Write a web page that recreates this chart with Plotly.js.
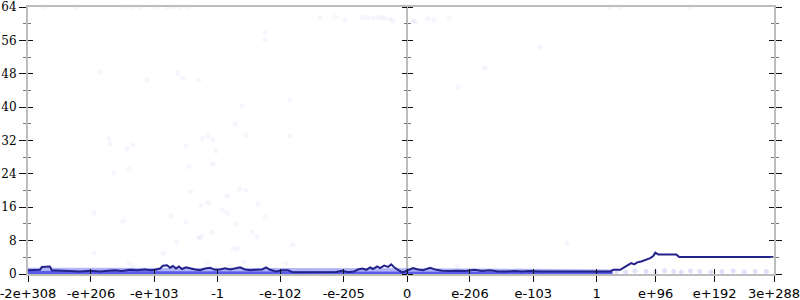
<!DOCTYPE html>
<html>
<head>
<meta charset="utf-8">
<script src="https://cdn.plot.ly/plotly-3.0.1.min.js"></script>
<style>html,body{margin:0;padding:0;background:#fff;}#chart{width:800px;height:300px;}</style>
</head>
<body>
<div id="chart"></div>
<script>
// x axis: signed binary-exponent position of the double value
const xTickVals = [-2047, -1707, -1365, -1023, -684, -342, 0, 339, 681, 1023, 1342, 1661, 1981];
const xTickText = ["-2e+308", "-e+206", "-e+103", "-1", "-e-102", "-e-205", "0", "e-206", "e-103", "1", "e+96", "e+192", "3e+288"];
const xRange = [-2047, 1981];
const yRange = [0, 64];

// summary line
const lineX = [-2047,-2009,-1982,-1972,-1929,-1918,-1875,-1820,-1766,-1712,-1658,-1615,-1577,-1540,-1496,-1458,-1415,-1388,-1361,-1334,-1318,-1296,-1280,-1264,-1248,-1232,-1215,-1194,-1172,-1145,-1118,-1091,-1064,-1037,-1010,-983,-956,-929,-902,-875,-848,-816,-783,-762,-740,-708,-675,-643,-616,-578,-524,-470,-416,-384,-351,-319,-286,-265,-243,-221,-200,-184,-162,-146,-124,-103,-86,-70,-49,-27,-11,
  11,32,59,86,124,157,189,232,276,319,362,405,448,492,535,578,621,664,718,772,826,881,935,989,1026,1097,1113,1151,1172,1194,1210,1226,1243,1264,1286,1313,1329,1340,1356,1453,1469,1977];
const lineY = [0.9,0.9,1.0,1.7,1.8,0.9,0.8,0.7,0.6,0.8,0.6,0.8,0.9,0.7,1.0,0.9,1.1,0.9,1.0,1.3,2.0,2.1,1.5,1.9,1.3,1.8,1.2,1.6,1.3,1.1,0.9,1.3,1.5,1.0,1.1,1.4,1.1,1.3,1.6,1.1,0.9,1.0,1.1,1.6,1.0,0.6,0.9,0.9,0.4,0.4,0.4,0.4,0.4,0.5,0.8,0.4,0.6,1.1,1.3,1.0,1.6,1.2,1.8,1.4,2.0,1.7,2.3,1.6,1.0,0.4,0.6,
  1.0,1.4,1.1,0.9,1.5,1.0,0.8,0.7,0.8,0.7,1.0,0.7,0.9,0.6,0.6,0.7,0.6,0.7,0.6,0.6,0.5,0.5,0.5,0.5,0.6,0.6,1.0,1.0,1.6,2.2,2.6,2.3,2.8,3.0,3.4,3.8,4.3,5.1,4.7,4.7,4.1,4.1];

// dense band of samples near zero
const bandX = [-2047, -1024, -1, 1, 600, 1110];
const bandLo = [0, 0, 0, 0, 0, 0];
const stripHi = [0.7, 0.7, 0.7, 0.6, 0.6, 0.5];
const bandHi = [1.5, 1.5, 1.5, 1.35, 1.25, 1.1];

// sparse low samples on the right
const dotsX = [1130,1180,1230,1290,1340,1390,1440,1480,1530,1580,1640,1700,1760,1820,1880,1940];
const dotsY = [0.6,0.5,0.7,0.6,0.5,0.8,0.6,0.5,0.7,0.6,0.5,0.6,0.7,0.5,0.6,0.6];

// outlier samples
const outX = [-1610,-1604,-1513,-1480,-1583,-1502,-1691,-1534,-1275,-1194,-1194,-1178,-1167,-1113,-1075,-1107,-1075,-1048,-1032,-1048,-999,-972,-972,-902,-870,-924,-805,-767,-929,-870,-891,-632,-632,
  -1956,-1788,-1523,-1480,-1442,-1361,-1296,-1269,-1226,-1188,-1658,-1405,-1237,-1124,
  -243,-216,-184,-157,-135,-119,-92,-76,32,43,113,146,227,276,
  -1691,-1502,-1480,-1318,-1243,-1124,-1113,-1053,-940,-918,-837,-810,-1080,-956,-881,-616,-654,270,864,
  -767,-767,421,718,-1210,1151,1097,1529,-470,-389,-335];
const outY = [32.4,31.2,30,31,24.2,25.2,14.6,12.7,13.9,12.5,30.7,25.7,19.7,16.5,17,32.4,33.1,32.1,29.5,26.4,15.3,14.6,18.7,20.4,20.1,12,16.8,13.7,36,33.3,40.3,41.7,33.1,
  64,64,64,64,64,64,64,64,64,64,48.4,46.5,48.2,46.5,
  61.5,61.5,61.5,61.5,61.5,61.2,61.2,60.7,60.7,60.4,61.2,61,61.5,44.8,
  5,2.6,1.9,5,7.7,8.6,8.9,10,6.2,6.2,10,8.9,2.6,1.9,2.9,7,2.6,1.9,7.4,
  57.8,56.1,49.4,54.4,47,64,64,64,61.6,61.6,60.9];

const traces = [
  {x: bandX, y: bandLo, mode: 'lines', line: {width: 0}, hoverinfo: 'skip', showlegend: false},
  {x: bandX, y: stripHi, mode: 'lines', line: {width: 0}, fill: 'tonexty', fillcolor: 'rgba(50,50,230,0.8)', hoverinfo: 'skip', showlegend: false},
  {x: bandX, y: bandHi, mode: 'lines', line: {width: 0}, fill: 'tonexty', fillcolor: 'rgba(100,105,240,0.5)', hoverinfo: 'skip', showlegend: false},
  {x: dotsX, y: dotsY, mode: 'markers', marker: {size: 5, color: 'rgba(90,90,230,0.18)'}, showlegend: false},
  {x: outX, y: outY, mode: 'markers', marker: {size: 5, color: 'rgba(110,110,235,0.07)'}, showlegend: false},
  {x: lineX, y: lineY, mode: 'lines', line: {color: 'rgb(35,35,140)', width: 2}, showlegend: false}
];
// empty traces so every tick-only overlay axis gets its own subplot
['y2','y3','y4','y5','y6'].forEach(function (ya) {
  traces.push({x: [], y: [], xaxis: 'x', yaxis: ya, mode: 'markers', showlegend: false, hoverinfo: 'skip'});
});
traces.push({x: [], y: [], xaxis: 'x2', yaxis: 'y', mode: 'markers', showlegend: false, hoverinfo: 'skip'});

const gray = '#bdbdbd';
const yBase = {range: yRange, autorange: false, tick0: 0, dtick: 8, tickmode: 'linear', showgrid: false, zeroline: false, tickcolor: '#111', tickwidth: 1};
const pMid = (0 - xRange[0]) / (xRange[1] - xRange[0]);

const layout = {
  width: 800, height: 300,
  margin: {l: 28, r: 26, t: 7, b: 26, pad: 0},
  paper_bgcolor: '#fff', plot_bgcolor: '#fff',
  showlegend: false,
  xaxis: {range: xRange, autorange: false, tickmode: 'array', tickvals: xTickVals, ticktext: xTickText,
    ticks: 'outside', ticklen: 6, tickcolor: '#111', tickwidth: 1, ticklabeloverflow: 'allow',
    showline: true, linecolor: gray, linewidth: 2, mirror: true,
    showgrid: false, zeroline: true, zerolinecolor: gray, zerolinewidth: 2,
    tickfont: {family: 'DejaVu Sans', size: 13, color: '#000'}},
  xaxis2: {range: xRange, autorange: false, overlaying: 'x', anchor: 'y', side: 'bottom', tickmode: 'array', tickvals: xTickVals,
    ticks: 'inside', ticklen: 5, tickcolor: '#111', tickwidth: 1, showticklabels: false,
    showline: false, showgrid: false, zeroline: false},
  yaxis: Object.assign({}, yBase, {ticks: 'outside', ticklen: 7, showline: true, linecolor: gray, linewidth: 2,
    minor: {dtick: 4, ticks: 'outside', ticklen: 3, tickcolor: '#777', showgrid: false},
    tickfont: {family: 'DejaVu Serif', size: 12, color: '#000'}}),
  yaxis2: Object.assign({}, yBase, {overlaying: 'y', side: 'left', anchor: 'x', ticks: 'inside', ticklen: 5, showticklabels: false, showline: false,
    minor: {dtick: 4, ticks: 'inside', ticklen: 3, tickcolor: '#777', showgrid: false}}),
  yaxis3: Object.assign({}, yBase, {overlaying: 'y', side: 'left', anchor: 'free', position: pMid, ticks: 'outside', ticklen: 5, showticklabels: false, showline: false,
    minor: {dtick: 4, ticks: 'outside', ticklen: 3, tickcolor: '#777', showgrid: false}}),
  yaxis4: Object.assign({}, yBase, {overlaying: 'y', side: 'right', anchor: 'free', position: pMid, ticks: 'outside', ticklen: 5, showticklabels: false, showline: false,
    minor: {dtick: 4, ticks: 'outside', ticklen: 3, tickcolor: '#777', showgrid: false}}),
  yaxis5: Object.assign({}, yBase, {overlaying: 'y', side: 'right', anchor: 'x', ticks: 'outside', ticklen: 6, showticklabels: false, showline: true, linecolor: gray, linewidth: 2,
    minor: {dtick: 4, ticks: 'outside', ticklen: 3, tickcolor: '#777', showgrid: false}}),
  yaxis6: Object.assign({}, yBase, {overlaying: 'y', side: 'right', anchor: 'x', ticks: 'inside', ticklen: 5, showticklabels: false, showline: false,
    minor: {dtick: 4, ticks: 'inside', ticklen: 3, tickcolor: '#777', showgrid: false}})
};

Plotly.newPlot('chart', traces, layout, {displayModeBar: false, staticPlot: true});
</script>
</body>
</html>
